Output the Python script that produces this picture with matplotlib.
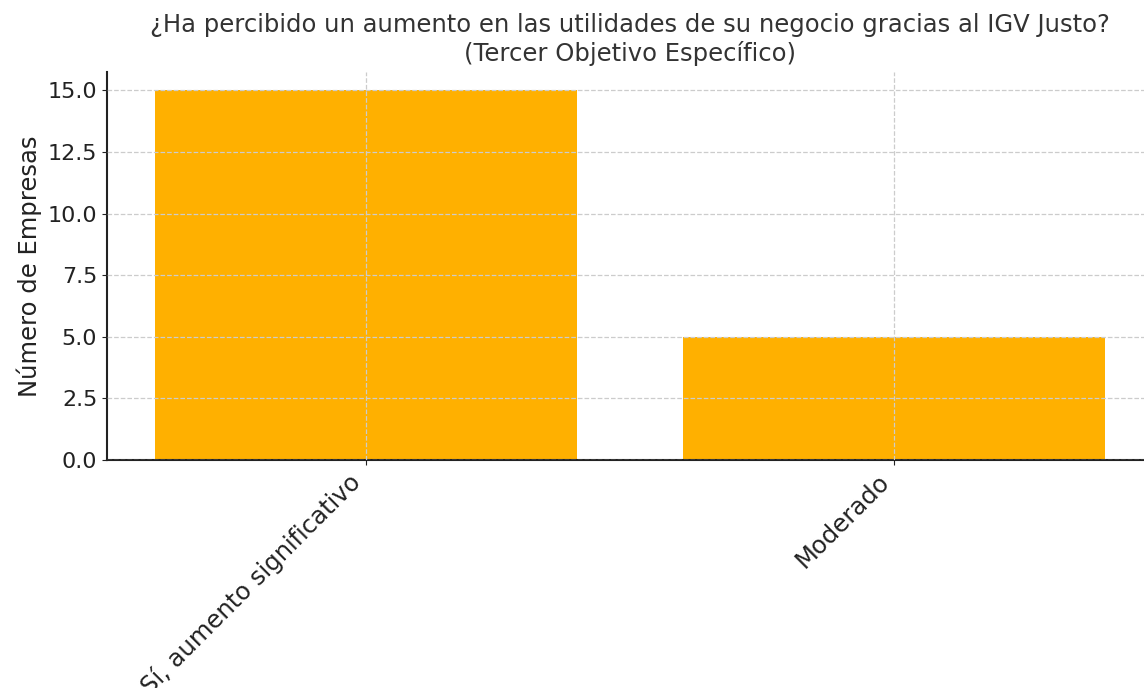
import matplotlib
matplotlib.use("Agg")
import matplotlib.pyplot as plt
from matplotlib.ticker import MultipleLocator

categories = ["Sí, aumento significativo", "Moderado"]
values = [15, 5]

plt.rcParams['font.family'] = ['DejaVu Sans']

fig = plt.figure(figsize=(11.44, 6.88), dpi=100)
ax = fig.add_axes([107/1144, 1 - 460/688, (1153 - 107)/1144, (460 - 72)/688])

ax.bar(categories, values, color="#FFB000", width=0.8)
ax.yaxis.set_major_locator(MultipleLocator(2.5))
ax.set_ylabel("Número de Empresas", fontsize=17.5, color="#222222")
ax.set_title("¿Ha percibido un aumento en las utilidades de su negocio gracias al IGV Justo?\n(Tercer Objetivo Específico)",
             fontsize=17.5, color="#333333", pad=8)
ax.grid(True, linestyle="--", color="#cccccc", linewidth=0.9)
ax.set_axisbelow(False)
ax.tick_params(axis='y', labelsize=16, colors="#222222")
ax.tick_params(axis='x', labelsize=17.5, colors="#222222")
plt.setp(ax.get_xticklabels(), rotation=45, ha='right')
for s in ['top', 'right']:
    ax.spines[s].set_visible(False)
for s in ['left', 'bottom']:
    ax.spines[s].set_color("#222222")
    ax.spines[s].set_linewidth(1.5)

fig.savefig("out.png", dpi=100)
